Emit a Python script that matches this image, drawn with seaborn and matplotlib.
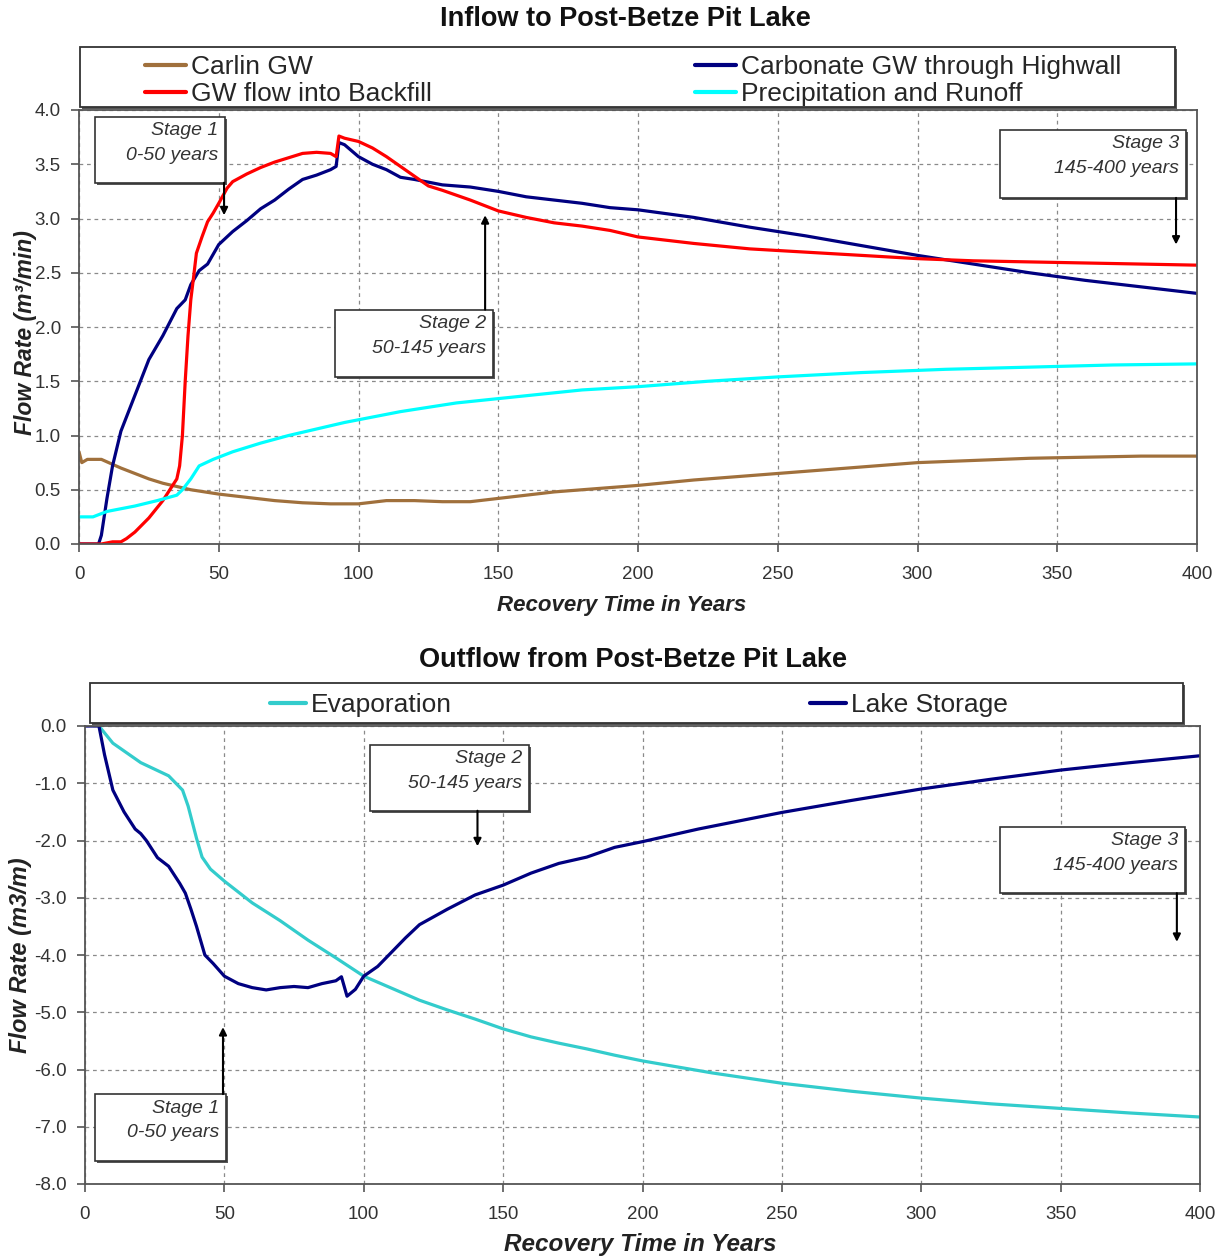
import numpy as np
import pandas as pd
import seaborn as sns
import matplotlib
matplotlib.use("Agg")
import matplotlib.pyplot as plt
from matplotlib.patches import Rectangle
from matplotlib.lines import Line2D
import matplotlib.patheffects as pe
from matplotlib.ticker import FormatStrFormatter, MultipleLocator

sns.set_theme(style="ticks")
plt.rcParams["font.family"] = ["Liberation Sans", "DejaVu Sans"]
plt.rcParams["axes.unicode_minus"] = False

# ---------------- data: inflow ----------------
carlin_x = [0, 1, 3, 8, 15, 25, 30, 40, 50, 60, 70, 80, 90, 100, 110, 120, 130, 140, 150, 160,
            170, 180, 190, 200, 220, 240, 260, 280, 300, 320, 340, 360, 380, 400]
carlin_y = [0.85, 0.75, 0.78, 0.78, 0.70, 0.60, 0.56, 0.50, 0.46, 0.43, 0.40, 0.38, 0.37, 0.37, 0.40,
            0.40, 0.39, 0.39, 0.42, 0.45, 0.48, 0.50, 0.52, 0.54, 0.59, 0.63, 0.67, 0.71, 0.75, 0.77,
            0.79, 0.80, 0.81, 0.81]

carb_x = [0, 7, 8, 10, 12, 15, 20, 25, 30, 35, 38, 40, 43, 46, 50, 55, 60, 65, 70, 75, 80, 85, 90,
          92, 93, 95, 100, 105, 110, 115, 120, 130, 140, 150, 160, 170, 180, 190, 200, 220, 240, 260,
          280, 300, 320, 340, 360, 380, 400]
carb_y = [0, 0, 0.08, 0.42, 0.72, 1.04, 1.37, 1.70, 1.92, 2.17, 2.25, 2.39, 2.52, 2.58, 2.76, 2.88,
          2.98, 3.09, 3.17, 3.27, 3.36, 3.40, 3.45, 3.48, 3.70, 3.68, 3.57, 3.50, 3.45, 3.38, 3.36,
          3.31, 3.29, 3.25, 3.20, 3.17, 3.14, 3.10, 3.08, 3.01, 2.92, 2.84, 2.75, 2.66, 2.58, 2.50,
          2.43, 2.37, 2.31]

backfill_x = [0, 8, 12, 15, 17, 20, 25, 30, 33, 35, 36, 37, 38, 39, 40, 41, 42, 44, 46, 48, 50, 53,
              55, 60, 65, 70, 75, 80, 85, 90, 92, 93, 95, 100, 105, 110, 115, 120, 125, 130, 140,
              150, 160, 170, 180, 190, 200, 220, 240, 260, 280, 300, 320, 340, 360, 380, 400]
backfill_y = [0, 0, 0.02, 0.02, 0.05, 0.11, 0.24, 0.40, 0.52, 0.60, 0.72, 1.00, 1.50, 1.92, 2.25,
              2.46, 2.68, 2.83, 2.97, 3.05, 3.14, 3.28, 3.34, 3.41, 3.47, 3.52, 3.56, 3.60, 3.61,
              3.60, 3.57, 3.76, 3.74, 3.71, 3.65, 3.57, 3.48, 3.39, 3.30, 3.26, 3.17, 3.07, 3.01,
              2.96, 2.93, 2.89, 2.83, 2.77, 2.72, 2.69, 2.66, 2.63, 2.61, 2.60, 2.59, 2.58, 2.57]

precip_x = [0, 5, 10, 20, 28, 35, 37, 40, 43, 48, 55, 65, 75, 85, 95, 105, 115, 125, 135, 150, 165,
            180, 200, 225, 250, 280, 310, 340, 370, 400]
precip_y = [0.25, 0.25, 0.30, 0.35, 0.40, 0.45, 0.50, 0.60, 0.72, 0.78, 0.85, 0.93, 1.00, 1.06, 1.12,
            1.17, 1.22, 1.26, 1.30, 1.34, 1.38, 1.42, 1.45, 1.50, 1.54, 1.58, 1.61, 1.63, 1.65, 1.66]

# ---------------- data: outflow ----------------
evap_x = [5, 10, 20, 30, 35, 37, 40, 42, 45, 50, 60, 70, 80, 90, 100, 110, 120, 130, 140, 150, 160,
          170, 180, 190, 200, 225, 250, 275, 300, 325, 350, 375, 400]
evap_y = [0, -0.30, -0.64, -0.87, -1.12, -1.40, -1.96, -2.29, -2.50, -2.71, -3.09, -3.40, -3.74,
          -4.05, -4.37, -4.58, -4.79, -4.96, -5.12, -5.29, -5.43, -5.54, -5.64, -5.75, -5.85, -6.06,
          -6.24, -6.38, -6.50, -6.60, -6.68, -6.76, -6.83]

storage_x = [0, 5, 7, 10, 14, 18, 20, 22, 26, 30, 34, 36, 38, 40, 43, 46, 50, 55, 60, 65, 70, 75, 80,
             85, 90, 92, 94, 97, 100, 105, 110, 115, 120, 130, 140, 150, 160, 170, 180, 190, 200,
             220, 250, 275, 300, 325, 350, 375, 400]
storage_y = [0, 0, -0.50, -1.12, -1.50, -1.80, -1.88, -2.00, -2.30, -2.45, -2.75, -2.92, -3.20, -3.50,
             -4.00, -4.15, -4.37, -4.50, -4.57, -4.61, -4.57, -4.55, -4.57, -4.50, -4.45, -4.38,
             -4.72, -4.60, -4.37, -4.20, -3.95, -3.70, -3.47, -3.20, -2.95, -2.78, -2.57, -2.40,
             -2.29, -2.12, -2.02, -1.80, -1.51, -1.30, -1.10, -0.93, -0.77, -0.64, -0.52]

inflow_names = ["Carlin GW", "Carbonate GW through Highwall", "GW flow into Backfill",
                "Precipitation and Runoff"]
inflow_colors = ["#A0703C", "#000080", "#FF0000", "#00FFFF"]
outflow_names = ["Evaporation", "Lake Storage"]
outflow_colors = ["#33CCCC", "#000080"]

stage_labels = ["Stage 1\n0-50 years", "Stage 2\n50-145 years", "Stage 3\n145-400 years"]


def to_long(names, xs, ys):
    frames = [pd.DataFrame({"Year": x, "Flow": y, "Series": n}) for n, x, y in zip(names, xs, ys)]
    return pd.concat(frames, ignore_index=True)


df_in = to_long(inflow_names, [carlin_x, carb_x, backfill_x, precip_x],
                [carlin_y, carb_y, backfill_y, precip_y])
df_out = to_long(outflow_names, [evap_x, storage_x], [evap_y, storage_y])

W, H = 1222, 1258
fig = plt.figure(figsize=(W / 100, H / 100), dpi=100)
fig.patch.set_facecolor("white")


def fx(px):
    return px / W


def fy(py):
    return 1 - py / H


ax1 = fig.add_axes([fx(79), fy(544), (1197 - 79) / W, (544 - 110) / H])
ax2 = fig.add_axes([fx(85), fy(1184), (1200 - 85) / W, (1184 - 726) / H])

sns.lineplot(data=df_in, x="Year", y="Flow", hue="Series", hue_order=inflow_names,
             palette=dict(zip(inflow_names, inflow_colors)), estimator=None, sort=False,
             linewidth=2.3, legend=False, ax=ax1)
sns.lineplot(data=df_out, x="Year", y="Flow", hue="Series", hue_order=outflow_names,
             palette=dict(zip(outflow_names, outflow_colors)), estimator=None, sort=False,
             linewidth=2.3, legend=False, ax=ax2)

spine_col = "#555555"
for ax, ylim, step in [(ax1, (0, 4.0), 0.5), (ax2, (-8.0, 0), 1.0)]:
    ax.set_xlim(0, 400)
    ax.set_ylim(*ylim)
    ax.xaxis.set_major_locator(MultipleLocator(50))
    ax.yaxis.set_major_locator(MultipleLocator(step))
    ax.yaxis.set_major_formatter(FormatStrFormatter("%.1f"))
    ax.grid(True, color="#8a8a8a", linestyle=(0, (3, 3)), linewidth=0.9)
    ax.set_axisbelow(True)
    for s in ax.spines.values():
        s.set_color(spine_col)
        s.set_linewidth(1.3)
        s.set_visible(True)
    ax.tick_params(axis="both", direction="out", length=6, width=1.2, color=spine_col,
                   labelsize=13.5, labelcolor="#333333")
    ax.tick_params(axis="x", pad=10)
    ax.tick_params(axis="y", pad=7)

ax1.set_xlabel("Recovery Time in Years", fontsize=16, fontweight="bold", style="italic",
               color="#222222")
ax2.set_xlabel("Recovery Time in Years", fontsize=17.5, fontweight="bold", style="italic",
               color="#222222")
ax1.set_ylabel("Flow Rate (m³/min)", fontsize=16.5, fontweight="bold", style="italic",
               color="#222222")
ax2.set_ylabel("Flow Rate (m3/m)", fontsize=17, fontweight="bold", style="italic",
               color="#222222")
for ax, xc, yc in [(ax1, (25 - 79) / 1118, (544 - 333) / 434), (ax2, (21 - 85) / 1115, 0.5)]:
    ax.yaxis.label.set_va("center")
    ax.yaxis.set_label_coords(xc, yc)
ax1.xaxis.label.set_va("center")
ax1.xaxis.set_label_coords((622 - 79) / 1118, -61 / 434)
ax2.xaxis.label.set_va("center")
ax2.xaxis.set_label_coords((640 - 85) / 1115, -61 / 458)

# titles
fig.text(fx(625), fy(19), "Inflow to Post-Betze Pit Lake", ha="center", va="center",
         fontsize=19.5, fontweight="bold", color="#111111")
fig.text(fx(633), fy(660), "Outflow from Post-Betze Pit Lake", ha="center", va="center",
         fontsize=19.5, fontweight="bold", color="#111111")

shadow = [pe.SimplePatchShadow(offset=(1.5, -1.5), shadow_rgbFace="#444444", alpha=0.9), pe.Normal()]

# legend frames
for (x0, y0, x1, y1) in [(80, 47, 1175, 107), (90, 683, 1183, 723)]:
    r = Rectangle((fx(x0), fy(y1)), fx(x1) - fx(x0), fy(y0) - fy(y1), transform=fig.transFigure,
                  facecolor="white", edgecolor="#333333", linewidth=1.3, zorder=1)
    r.set_path_effects(shadow)
    fig.add_artist(r)


def handle(c):
    return Line2D([], [], color=c, linewidth=3)


leg_kw = dict(frameon=False, fontsize=19, borderpad=0, borderaxespad=0,
              handletextpad=0.2, labelspacing=0.11, loc="upper left",
              bbox_transform=fig.transFigure)
fig.legend([handle(inflow_colors[0]), handle(inflow_colors[2])],
           [inflow_names[0], inflow_names[2]], bbox_to_anchor=(fx(145), fy(55)),
           handlelength=1.55, **leg_kw)
fig.legend([handle(inflow_colors[1]), handle(inflow_colors[3])],
           [inflow_names[1], inflow_names[3]], bbox_to_anchor=(fx(695), fy(55)),
           handlelength=1.55, **leg_kw)
fig.legend([handle(outflow_colors[0])], [outflow_names[0]],
           bbox_to_anchor=(fx(270), fy(693)), handlelength=1.35, **leg_kw)
fig.legend([handle(outflow_colors[1])], [outflow_names[1]],
           bbox_to_anchor=(fx(810), fy(693)), handlelength=1.35, **leg_kw)


def stage_box(ax, x0, x1, y0, y1, text, arrow_x, arrow_from, arrow_to):
    r = Rectangle((x0, y0), x1 - x0, y1 - y0, facecolor="white", edgecolor="#333333",
                  linewidth=1.2, zorder=6, clip_on=False)
    r.set_path_effects(shadow)
    ax.add_patch(r)
    ax.annotate(text, xy=(x1, max(y0, y1)), xytext=(-5, -4), textcoords="offset points",
                ha="right", va="top", fontsize=14, style="italic", color="#333333",
                linespacing=1.6, zorder=7, annotation_clip=False)
    ax.annotate("", xy=(arrow_x, arrow_to), xytext=(arrow_x, arrow_from),
                arrowprops=dict(arrowstyle="-|>", color="black", lw=1.5, mutation_scale=11,
                                shrinkA=0, shrinkB=0), zorder=6)


stage_box(ax1, 5.7, 52.2, 3.33, 3.94, stage_labels[0], 51.9, 3.33, 3.03)
stage_box(ax1, 91.6, 148.1, 1.54, 2.16, stage_labels[1], 145.3, 2.16, 3.03)
stage_box(ax1, 329.5, 396.0, 3.19, 3.82, stage_labels[2], 392.5, 3.19, 2.76)

stage_box(ax2, 3.6, 50.6, -7.60, -6.43, stage_labels[0], 49.5, -6.43, -5.26)
stage_box(ax2, 102.2, 159.3, -1.48, -0.33, stage_labels[1], 140.8, -1.48, -2.10)
stage_box(ax2, 328.3, 394.6, -2.92, -1.76, stage_labels[2], 391.7, -2.92, -3.77)

fig.savefig("out.png", dpi=100, facecolor="white")
